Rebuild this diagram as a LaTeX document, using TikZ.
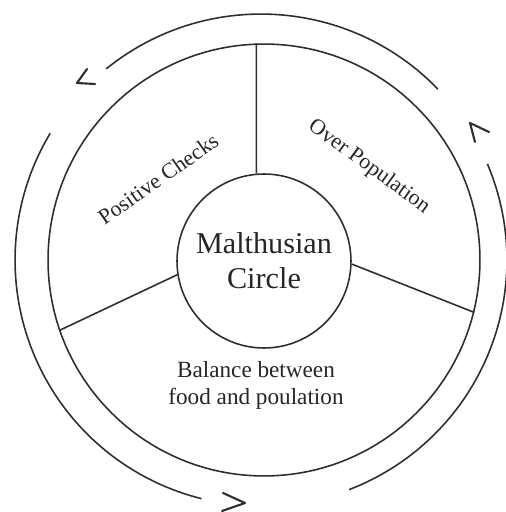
\documentclass[tikz,border=0pt]{standalone}
\usepackage{fontspec}
\setmainfont{Liberation Serif}
\usepackage{xcolor}
\definecolor{Ink}{HTML}{2E2E2E}
\definecolor{TextInk}{HTML}{262626}
\usetikzlibrary{positioning,calc}
\tikzset{
  hub/.style={circle,draw=Ink,line width=0.9pt,minimum size=3.48cm,inner sep=0pt,
    align=center,font=\fontsize{17.2}{20}\selectfont,text=TextInk},
  ring/.style={circle,draw=Ink,line width=0.9pt,minimum size=8.64cm,inner sep=0pt},
  div/.style={draw=Ink,line width=0.9pt},
  cyc/.style={draw=Ink,line width=0.9pt},
  chev/.style={draw=Ink,line width=1.2pt,line cap=round,line join=round},
  lbl/.style={font=\fontsize{12.5}{15}\selectfont,text=TextInk,inner sep=0pt},
}

\begin{document}
\begin{tikzpicture}[x=0.02cm,y=0.02cm]
\useasboundingbox (0,0) rectangle (506,512);
\node[ring] (rg) at (264,252) {};
\node[hub] (mc) at (264,251) {Malthusian\\Circle};

% dividers
\draw[div] (mc.95) -- (rg.92);
\draw[div] (mc.189) -- (rg.199);
\draw[div] (mc.358) -- (rg.346);

% sector labels
\node[lbl,rotate=35] (pc) at (158,333) {Positive Checks};
\node[lbl,rotate=-36] (op) at (369,345) {Over Population};
\node[lbl,align=center,font=\fontsize{13.2}{15.3}\selectfont] (bl) at (256,127)
  {Balance between\\food and poulation};

% outer cycle
\coordinate (oc) at (261,252);
\draw[cyc] ([shift={(44:4.92cm)}]oc) arc[start angle=44,end angle=129,radius=4.92cm];
\draw[cyc] ([shift={(149:4.92cm)}]oc) arc[start angle=149,end angle=256,radius=4.92cm];
\draw[cyc] ([shift={(291:4.92cm)}]oc) arc[start angle=291,end angle=383,radius=4.92cm];

% chevrons
\draw[chev] (87,443) -- (77,429) -- (95,428);
\draw[chev] (475,370) -- (470,389) -- (489,380);
\draw[chev] (223,19) -- (245,9) -- (222,1);
\end{tikzpicture}
\end{document}
